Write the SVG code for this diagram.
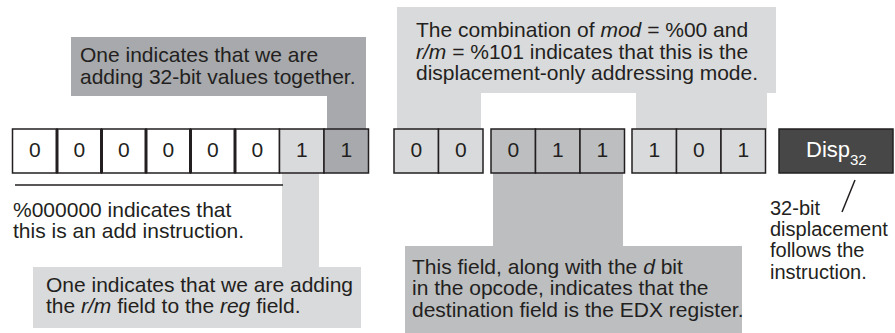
<svg xmlns="http://www.w3.org/2000/svg" width="895" height="333" viewBox="0 0 895 333">
<style>
text{font-family:"Liberation Sans",Arial,sans-serif;font-size:21px;fill:#231f20}
.i{font-style:italic}
.dg{text-anchor:middle}
.sm{font-size:20px}
.cell{stroke:#231f20;stroke-width:1.5}
.w{fill:#ffffff}
.l{fill:#d9dadb}
.m{fill:#bcbec0}
.d{fill:#a7a9ac}
.dk{fill:#474747}
.div{stroke:#231f20;stroke-width:3}
.ln{stroke:#231f20;stroke-width:1.5;fill:none}
</style>
<rect width="895" height="333" fill="#ffffff"/>
<g id="callout-32bit">
<rect class="d" x="71" y="37" width="295" height="59"/>
<rect class="d" x="327" y="95" width="39" height="34"/>
<text x="80" y="62">One indicates that we are</text>
<text x="80" y="84">adding 32-bit values together.</text>
</g>
<g id="callout-mode">
<rect class="l" x="397" y="7" width="379" height="86"/>
<rect class="l" x="397" y="92" width="84" height="37"/>
<rect class="l" x="636" y="92" width="131" height="37"/>
<text x="416" y="37">The combination of <tspan class="i">mod</tspan> = %00 and</text>
<text x="416" y="58.5"><tspan class="i">r/m</tspan> = %101 indicates that this is the</text>
<text x="416" y="80">displacement-only addressing mode.</text>
</g>
<g id="callout-direction">
<rect class="l" x="282" y="172" width="37" height="96"/>
<rect class="l" x="33" y="267" width="328" height="61"/>
<text x="46" y="292">One indicates that we are adding</text>
<text x="46" y="313">the <tspan class="i">r/m</tspan> field to the <tspan class="i">reg</tspan> field.</text>
</g>
<g id="callout-reg">
<rect class="m" x="493" y="172" width="130" height="75"/>
<rect class="m" x="405" y="246" width="337" height="87"/>
<text x="412" y="273.5">This field, along with the <tspan class="i">d</tspan> bit</text>
<text x="412" y="295">in the opcode, indicates that the</text>
<text x="412" y="316.5">destination field is the EDX register.</text>
</g>
<g id="opcode">
<rect class="cell w" x="12.5" y="129" width="44.5" height="44"/>
<rect class="cell w" x="57" y="129" width="44.5" height="44"/>
<rect class="cell w" x="101.5" y="129" width="44.5" height="44"/>
<rect class="cell w" x="146" y="129" width="44.5" height="44"/>
<rect class="cell w" x="190.5" y="129" width="44.5" height="44"/>
<rect class="cell w" x="235" y="129" width="44.5" height="44"/>
<rect class="cell l" x="279.5" y="129" width="44.5" height="44"/>
<rect class="cell d" x="324" y="129" width="44.5" height="44"/>
<line class="div" x1="57" y1="129" x2="57" y2="173"/>
<line class="div" x1="101.5" y1="129" x2="101.5" y2="173"/>
<line class="div" x1="146" y1="129" x2="146" y2="173"/>
<line class="div" x1="190.5" y1="129" x2="190.5" y2="173"/>
<line class="div" x1="235" y1="129" x2="235" y2="173"/>
<text class="dg" x="34.75" y="157">0</text>
<text class="dg" x="79.25" y="157">0</text>
<text class="dg" x="123.75" y="157">0</text>
<text class="dg" x="168.25" y="157">0</text>
<text class="dg" x="212.75" y="157">0</text>
<text class="dg" x="257.25" y="157">0</text>
<text class="dg" x="301.75" y="157">1</text>
<text class="dg" x="346.25" y="157">1</text>
</g>
<g id="mod">
<rect class="cell l" x="394" y="129" width="44.5" height="44"/>
<rect class="cell l" x="438.5" y="129" width="44.5" height="44"/>
<text class="dg" x="416.25" y="157">0</text>
<text class="dg" x="460.75" y="157">0</text>
</g>
<g id="reg">
<rect class="cell m" x="491" y="129" width="44.5" height="44"/>
<rect class="cell m" x="535.5" y="129" width="44.5" height="44"/>
<rect class="cell m" x="580" y="129" width="44.5" height="44"/>
<text class="dg" x="513.25" y="157">0</text>
<text class="dg" x="557.75" y="157">1</text>
<text class="dg" x="602.25" y="157">1</text>
</g>
<g id="rm">
<rect class="cell l" x="632" y="129" width="44.5" height="44"/>
<rect class="cell l" x="676.5" y="129" width="44.5" height="44"/>
<rect class="cell l" x="721" y="129" width="44.5" height="44"/>
<text class="dg" x="654.25" y="157">1</text>
<text class="dg" x="698.75" y="157">0</text>
<text class="dg" x="743.25" y="157">1</text>
</g>
<g id="disp">
<rect class="cell dk" x="779" y="129" width="114" height="44"/>
<text x="806" y="157" style="fill:#ffffff;font-size:22px">Disp<tspan dy="8" style="font-size:15px;fill:#ffffff">32</tspan></text>
</g>
<g id="note-add">
<text x="13" y="217">%000000 indicates that</text>
<text x="13" y="238">this is an add instruction.</text>
</g>
<g id="note-disp">
<text class="sm" x="770" y="215">32-bit</text>
<text class="sm" x="770" y="236">displacement</text>
<text class="sm" x="770" y="257">follows the</text>
<text class="sm" x="770" y="279">instruction.</text>
</g>
<g id="connectors">
<line class="ln" x1="855" y1="180" x2="842" y2="212"/>
<line class="ln" x1="15" y1="185" x2="283" y2="185"/>
</g>
</svg>
